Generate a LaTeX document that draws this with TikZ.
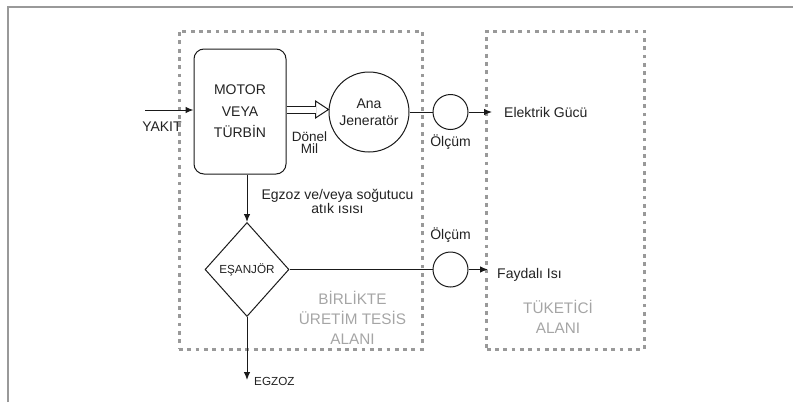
\documentclass[tikz,border=0pt]{standalone}
\usepackage{fontspec}
\setsansfont{Liberation Sans}
\usetikzlibrary{positioning, arrows.meta, shapes.geometric}
\definecolor{clrline}{HTML}{1A1A1A}
\definecolor{clrframe}{HTML}{999999}
\definecolor{clrzone}{HTML}{999999}
\definecolor{clrzonetext}{HTML}{A5A5A5}
\definecolor{clrtext}{HTML}{222222}

\begin{document}
\begin{tikzpicture}[
    x=1pt, y=-1pt,
    >={Latex[length=8pt, width=6.5pt]},
    every node/.style={font=\sffamily\fontsize{14}{16}\selectfont, text=clrtext},
    block/.style={draw=clrline, rounded corners=10pt, line width=1pt, align=center, inner sep=0pt},
    meter/.style={draw=clrline, circle, line width=1pt, minimum size=35pt, inner sep=0pt},
    exchanger/.style={draw=clrline, diamond, line width=1pt, inner sep=0pt, minimum width=84pt,
                      minimum height=94pt, font=\sffamily\fontsize{11.7}{13}\selectfont},
    arrow/.style={->, line width=1pt, color=clrline},
    link/.style={line width=1pt, color=clrline},
    zone/.style={draw=clrzone, line width=3pt, dash pattern=on 3.8pt off 4.5pt, inner sep=0pt},
    zonelabel/.style={font=\sffamily\fontsize{15.3}{20}\selectfont, text=clrzonetext, align=center},
    txt/.style={inner sep=0pt, align=center},
]
\useasboundingbox (0,0) rectangle (793,402);
\draw[color=clrframe, line width=2.6pt] (8,402) -- (8,7) -- (793,7);
\node[zone, minimum width=243pt, minimum height=318pt] (z_cogen) at (300.5,190) {};
\node[zone, minimum width=157.5pt, minimum height=318pt] (z_user) at (565.5,190) {};
\node[zonelabel] (z_cogen_title) at (352.5,318) {BİRLİKTE\\ÜRETİM TESİS\\ALANI};
\node[zonelabel] (z_user_title) at (558,316.5) {TÜKETİCİ\\ALANI};
\node[block, minimum width=92pt, minimum height=125pt, font=\sffamily\fontsize{14}{21.5}\selectfont] (n_motor) at (240,111.5) {MOTOR\\VEYA\\TÜRBİN};
\node[meter, minimum size=80pt, align=center, font=\sffamily\fontsize{14}{17}\selectfont] (n_gen) at (369,112) {Ana\\Jeneratör};
\node[meter] (n_olcum1) at (450.5,112) {};
\node[txt, below=5pt of n_olcum1] (n_olcum1_lbl) {Ölçüm};
\node[exchanger] (n_esanjor) at (247,269.5) {EŞANJÖR};
\node[meter] (n_olcum2) at (450.5,269.5) {};
\node[txt, above=8.5pt of n_olcum2] (n_olcum2_lbl) {Ölçüm};
\coordinate (c_fuel) at (145,110);
\coordinate (c_shaft) at (286,109.5);
\coordinate (c_elec) at (492,112);
\coordinate (c_heat) at (488,269.5);
\coordinate (c_exhaust) at (247,380);
\node[txt, anchor=west, right=12pt of c_elec] (n_elec) {Elektrik Gücü};
\node[txt, anchor=west, right=9pt of c_heat, yshift=-5pt] (n_heat) {Faydalı Isı};
\node[txt, anchor=west, right=7pt of c_exhaust, yshift=-1.5pt, font=\sffamily\fontsize{11.7}{13}\selectfont] (n_exhaust) {EGZOZ};
\node[txt, font=\sffamily\fontsize{13.5}{12}\selectfont] (n_shaft_lbl) at (309.5,143) {Dönel\\Mil};
\node[txt, font=\sffamily\fontsize{14}{14}\selectfont] (n_heat_lbl) at (337.5,201) {Egzoz ve/veya soğutucu\\atık ısısı};
\draw[arrow] (c_fuel) -- node[txt, below=11.5pt, pos=0.35] {YAKIT} (n_motor.west |- c_fuel);
\draw[link, fill=white] (c_shaft -| n_gen.west) -- ++(-13,-8.5) -- ++(0,17) -- cycle;
\draw[link, double, double distance=6pt] (c_shaft -| n_motor.east) -- ([xshift=-12.5pt]c_shaft -| n_gen.west);
\draw[link] (n_gen.east) -- (n_olcum1.west);
\draw[arrow] (n_olcum1.east) -- (c_elec);
\draw[arrow] (n_motor.south -| n_esanjor.north) -- (n_esanjor.north);
\draw[link] (n_esanjor.east) -- (n_olcum2.west);
\draw[arrow] (n_olcum2.east) -- (c_heat);
\draw[arrow] (n_esanjor.south) -- (c_exhaust);
\end{tikzpicture}
\end{document}
